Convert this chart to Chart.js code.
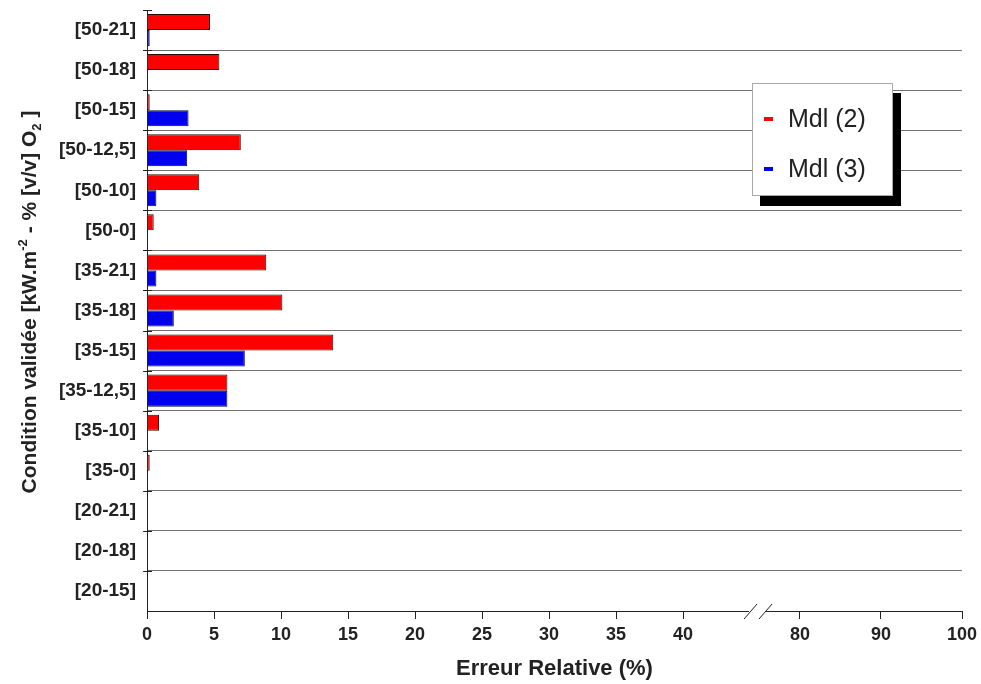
<!DOCTYPE html>
<html>
<head>
<meta charset="utf-8">
<script src="https://cdn.jsdelivr.net/npm/chart.js@4/dist/chart.umd.min.js"></script>
<style>
  body { margin: 0; background: #fff; }
  #wrap { position: relative; width: 981px; height: 684px; font-family: "Liberation Sans", Arial, sans-serif; }
  #legendBox {
    position: absolute; left: 752px; top: 83px; width: 139px; height: 111px;
    background: #fff; border: 1px solid #aaa; box-shadow: 8px 10px 0 #000;
  }
  .lg-dash { position: absolute; left: 11px; width: 9px; height: 4px; }
  .lg-text { position: absolute; left: 35px; font-size: 25px; line-height: 25px; color: #222; white-space: nowrap; }
</style>
</head>
<body>
<div id="wrap">
  <canvas id="chart" width="981" height="684"></canvas>
  <div id="legendBox"></div>
</div>
<script>
// ============================================
// Erreur relative par condition validée
// ============================================

const categories = ['[50-21]', '[50-18]', '[50-15]', '[50-12,5]', '[50-10]', '[50-0]',
                    '[35-21]', '[35-18]', '[35-15]', '[35-12,5]', '[35-10]', '[35-0]',
                    '[20-21]', '[20-18]', '[20-15]'];

const seriesNames = ['Mdl (2)', 'Mdl (3)'];
const mdl2 = [4.7, 5.4, 0.2, 7.0, 3.9, 0.5, 8.9, 10.1, 13.9, 6.0, 0.9, 0.2, 0, 0, 0];
const mdl3 = [0.2, 0, 3.1, 3.0, 0.7, 0, 0.7, 2.0, 7.3, 6.0, 0, 0, 0, 0, 0];

// axis ticks (the axis is broken between 40 and 80)
const tickLabels = [0, 5, 10, 15, 20, 25, 30, 35, 40, 80, 90, 100];

// real value -> axis unit (left part linear, right part compressed after the break)
function toAxis(v) {
  return v <= 45 ? v : 48.73 + (v - 80) * 0.6045;
}
const axisMax = toAxis(100);
const breakAt = 45.6;

const FONT = '"Liberation Sans", Arial, sans-serif';
const colors = ['#ff0000', '#0000ee'];

// legend (html box with the hard shadow)
const legendBox = document.getElementById('legendBox');
seriesNames.forEach((name, i) => {
  const top = 34 + i * 50;
  legendBox.innerHTML += `<div class="lg-dash" style="top:${top - 1}px;background:${colors[i]}"></div>` +
                         `<div class="lg-text" style="top:${top - 12}px">${name}</div>`;
});

const decorPlugin = {
  id: 'decor',
  afterDraw(chart) {
    const ctx = chart.ctx;
    const x = chart.scales.x;
    const area = chart.chartArea;

    // small tick marks across the y axis at row boundaries
    ctx.save();
    ctx.strokeStyle = '#222';
    ctx.lineWidth = 1;
    const step = (area.bottom - area.top) / categories.length;
    for (let i = 0; i < categories.length; i++) {
      const py = Math.round(area.top + i * step) + 0.5;
      ctx.beginPath();
      ctx.moveTo(area.left - 4, py);
      ctx.lineTo(area.left + 5, py);
      ctx.stroke();
    }

    // axis break
    const bx = x.getPixelForValue(breakAt);
    const by = area.bottom;
    ctx.fillStyle = '#fff';
    ctx.fillRect(bx - 9, by - 3, 17, 6);
    ctx.strokeStyle = '#222';
    ctx.beginPath();
    ctx.moveTo(bx - 14, by + 8); ctx.lineTo(bx - 1, by - 7);
    ctx.moveTo(bx + 1, by + 8);  ctx.lineTo(bx + 14, by - 7);
    ctx.stroke();

    // y title with super/subscripts
    const parts = [
      ['Condition validée [kW.m', 0],
      ['-2', -1],
      [' - % [v/v] O', 0],
      ['2', 1],
      [' ]', 0]
    ];
    const big = 'bold 21px ' + FONT, small = 'bold 13px ' + FONT;
    let total = 0;
    parts.forEach(p => { ctx.font = p[1] ? small : big; total += ctx.measureText(p[0]).width; });
    ctx.translate(36, 302);
    ctx.rotate(-Math.PI / 2);
    ctx.fillStyle = '#222';
    ctx.textBaseline = 'alphabetic';
    ctx.textAlign = 'left';
    let cx = -total / 2;
    parts.forEach(p => {
      ctx.font = p[1] ? small : big;
      const dy = p[1] === -1 ? -9 : p[1] === 1 ? 5 : 0;
      ctx.fillText(p[0], cx, dy);
      cx += ctx.measureText(p[0]).width;
    });
    ctx.restore();
  }
};

new Chart(document.getElementById('chart'), {
  type: 'bar',
  data: {
    labels: categories,
    datasets: [
      { label: seriesNames[0], data: mdl2.map(toAxis), backgroundColor: colors[0], borderColor: '#2a0808', borderWidth: 1 },
      { label: seriesNames[1], data: mdl3.map(toAxis), backgroundColor: colors[1], borderColor: '#08082a', borderWidth: 1 }
    ]
  },
  options: {
    indexAxis: 'y',
    responsive: false,
    animation: false,
    layout: { padding: { top: 10, right: 19, left: 0, bottom: 0 } },
    datasets: { bar: { categoryPercentage: 0.8, barPercentage: 1 } },
    plugins: { legend: { display: false }, tooltip: { enabled: false } },
    scales: {
      x: {
        type: 'linear',
        min: 0,
        max: axisMax,
        afterBuildTicks: s => { s.ticks = tickLabels.map(v => ({ value: toAxis(v) })); },
        afterFit: s => { s.height = 73; s.paddingLeft = 0; s.paddingRight = 0; },
        ticks: {
          autoSkip: false,
          maxRotation: 0,
          padding: 5,
          color: '#222',
          font: { family: FONT, size: 18, weight: 'bold' },
          callback: (value, i) => String(tickLabels[i])
        },
        grid: { drawOnChartArea: false, drawTicks: true, tickLength: 8, color: '#222' },
        border: { display: true, color: '#222', width: 1 },
        title: {
          display: true,
          text: 'Erreur Relative (%)',
          color: '#222',
          font: { family: FONT, size: 22, weight: 'bold' },
          padding: { top: 0, bottom: 2 }
        }
      },
      y: {
        afterFit: s => { s.width = 147; s.paddingTop = 0; s.paddingBottom = 0; },
        ticks: {
          padding: 11,
          color: '#222',
          font: { family: FONT, size: 19, weight: 'bold' }
        },
        grid: {
          offset: true,
          drawTicks: false,
          color: ctx => ctx.index === 0 ? 'rgba(0,0,0,0)' : '#707070',
          lineWidth: 1
        },
        border: { display: true, color: '#222', width: 1 }
      }
    }
  },
  plugins: [decorPlugin]
});
</script>
</body>
</html>
